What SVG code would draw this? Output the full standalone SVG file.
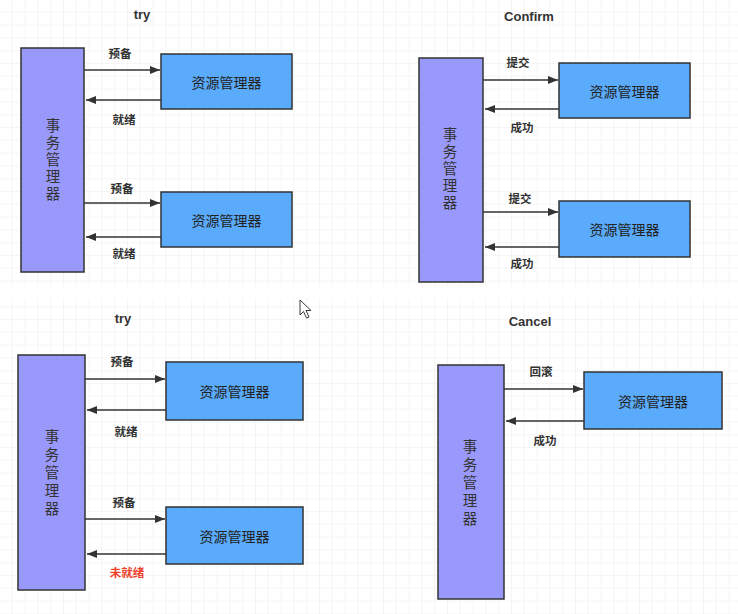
<svg xmlns="http://www.w3.org/2000/svg" width="738" height="614" viewBox="0 0 738 614">
<defs>
<pattern id="grid" width="12.8" height="12.8" patternUnits="userSpaceOnUse">
<path d="M12.8 0 V12.8 M0 12.8 H12.8" fill="none" stroke="#ebebeb" stroke-width="1"/>
</pattern>
<marker id="ah" viewBox="0 0 10 10" refX="10" refY="5" markerWidth="10" markerHeight="10" markerUnits="userSpaceOnUse" orient="auto">
<path d="M0 1 L10 5 L0 9 Z" fill="#333"/>
</marker>
</defs>
<style>
.tm{fill:#9999fb;stroke:#333;stroke-width:1.5}
.rm{fill:#5aabfb;stroke:#333;stroke-width:1.5}
.title{font-family:"Liberation Sans","Noto Sans CJK SC",sans-serif;font-size:13px;font-weight:bold;fill:#333;text-anchor:middle}
.lbl{font-family:"Noto Sans CJK SC",sans-serif;font-size:11.5px;font-weight:bold;fill:#333;text-anchor:middle}
.red{fill:#f0402a}
.rt{font-family:"Noto Sans CJK SC",sans-serif;font-size:14px;fill:#222;text-anchor:middle;dominant-baseline:central}
.vt{font-family:"Noto Sans CJK SC",sans-serif;font-size:14.5px;fill:#333;text-anchor:middle;writing-mode:vertical-rl;letter-spacing:2.5px}
.vt2{letter-spacing:3.5px}
.ln{stroke:#333;stroke-width:1.5;fill:none;marker-end:url(#ah)}
</style>
<rect width="738" height="614" fill="#fff"/>
<rect x="0" y="0" width="738" height="287" fill="url(#grid)"/>
<rect x="0" y="298" width="738" height="316" fill="url(#grid)"/>

<!-- Panel 1: try -->
<text class="title" x="142" y="19">try</text>
<g id="tm1"><rect class="tm" x="21" y="48" width="63" height="224"/>
<text class="vt" x="53" y="161">事务管理器</text></g>
<g id="rm1a"><rect class="rm" x="161" y="54" width="131" height="55"/><text class="rt" x="226.5" y="82">资源管理器</text></g>
<g id="rm1b"><rect class="rm" x="161" y="192" width="131" height="55"/><text class="rt" x="226.5" y="220">资源管理器</text></g>

<!-- Panel 2: Confirm -->
<text class="title" x="529" y="21">Confirm</text>
<g id="tm2"><rect class="tm" x="419" y="58" width="64" height="224"/>
<text class="vt" x="450" y="170">事务管理器</text></g>
<g id="rm2a"><rect class="rm" x="559" y="63" width="131" height="55"/><text class="rt" x="624.5" y="91">资源管理器</text></g>
<g id="rm2b"><rect class="rm" x="559" y="201" width="131" height="56"/><text class="rt" x="624.5" y="229">资源管理器</text></g>

<!-- Panel 3: try -->
<text class="title" x="123" y="323">try</text>
<g id="tm3"><rect class="tm" x="18" y="355" width="67" height="235"/>
<text class="vt vt2" x="52" y="474">事务管理器</text></g>
<g id="rm3a"><rect class="rm" x="166" y="362" width="137" height="58"/><text class="rt" x="234.5" y="391">资源管理器</text></g>
<g id="rm3b"><rect class="rm" x="166" y="507" width="137" height="57"/><text class="rt" x="234.5" y="535.5">资源管理器</text></g>

<!-- Panel 4: Cancel -->
<text class="title" x="530" y="326">Cancel</text>
<g id="tm4"><rect class="tm" x="438" y="365" width="66" height="234"/>
<text class="vt vt2" x="470" y="484">事务管理器</text></g>
<g id="rm4"><rect class="rm" x="584" y="372" width="138" height="57"/><text class="rt" x="653" y="400.5">资源管理器</text></g>

<g id="connectors">
<line class="ln" x1="84" y1="70" x2="160" y2="70"/>
<line class="ln" x1="161" y1="100" x2="86" y2="100"/>
<line class="ln" x1="84" y1="203" x2="160" y2="203"/>
<line class="ln" x1="161" y1="237" x2="86" y2="237"/>
<line class="ln" x1="483" y1="80" x2="558" y2="80"/>
<line class="ln" x1="559" y1="109" x2="485" y2="109"/>
<line class="ln" x1="483" y1="212" x2="558" y2="212"/>
<line class="ln" x1="559" y1="247" x2="485" y2="247"/>
<line class="ln" x1="85" y1="379" x2="165" y2="379"/>
<line class="ln" x1="166" y1="410" x2="87" y2="410"/>
<line class="ln" x1="85" y1="519" x2="165" y2="519"/>
<line class="ln" x1="166" y1="554" x2="87" y2="554"/>
<line class="ln" x1="504" y1="389" x2="583" y2="389"/>
<line class="ln" x1="584" y1="421" x2="506" y2="421"/>
</g>
<g id="labels">
<text class="lbl" x="120" y="58">预备</text>
<text class="lbl" x="124" y="124">就绪</text>
<text class="lbl" x="122" y="193">预备</text>
<text class="lbl" x="124" y="258">就绪</text>
<text class="lbl" x="518" y="67">提交</text>
<text class="lbl" x="522" y="132">成功</text>
<text class="lbl" x="520" y="203">提交</text>
<text class="lbl" x="522" y="268">成功</text>
<text class="lbl" x="122" y="366">预备</text>
<text class="lbl" x="126" y="436">就绪</text>
<text class="lbl" x="124" y="507">预备</text>
<text class="lbl red" x="127" y="577">未就绪</text>
<text class="lbl" x="541" y="376">回滚</text>
<text class="lbl" x="545" y="445">成功</text>
</g>
<path d="M300 300 L300 315 L303.5 311.5 L306.5 318 L309 317 L306 310.5 L311 310.5 Z" fill="#fff" stroke="#222" stroke-width="0.9"/>
</svg>
